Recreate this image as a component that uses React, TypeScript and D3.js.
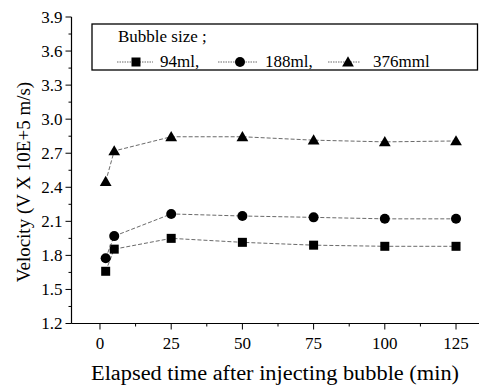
import React from "react";
import * as d3 from "d3";

const times = [2, 5, 25, 50, 75, 100, 125];
const v94 = [1.66, 1.855, 1.95, 1.915, 1.89, 1.88, 1.88];
const v188 = [1.775, 1.97, 2.165, 2.147, 2.135, 2.122, 2.122];
const v376 = [2.45, 2.72, 2.845, 2.845, 2.815, 2.8, 2.808];
const seriesNames = ["94ml,", "188ml,", "376mml"];
const xTicks = [0, 25, 50, 75, 100, 125];
const yTicks = [1.2, 1.5, 1.8, 2.1, 2.4, 2.7, 3.0, 3.3, 3.6, 3.9];

const W = 479;
const H = 390;
const font = "Liberation Serif";

const x = d3.scaleLinear().domain([-10, 135]).range([71.5, 484.5]);
const y = d3.scaleLinear().domain([1.2, 3.9]).range([323.5, 17]);

type Shape = "square" | "circle" | "triangle";

function Marker({ cx, cy, shape }: { cx: number; cy: number; shape: Shape }) {
  if (shape === "square") return <rect x={cx - 4.5} y={cy - 4.5} width={9} height={9} fill="#000" />;
  if (shape === "circle") return <circle cx={cx} cy={cy} r={5} fill="#000" />;
  const sym = d3.symbol().type(d3.symbolTriangle).size(60)();
  return <path d={sym || ""} transform={`translate(${cx},${cy + 1})`} fill="#000" />;
}

const series: { values: number[]; shape: Shape }[] = [
  { values: v94, shape: "square" },
  { values: v188, shape: "circle" },
  { values: v376, shape: "triangle" },
];

export default function App() {
  const line = d3
    .line<number>()
    .x((_, i) => x(times[i]))
    .y((d) => y(d));

  const yMinor = d3.range(1.35, 3.9, 0.3);
  const xMinor = d3.range(12.5, 135, 25);
  const x0 = x.range()[0];
  const yBase = y.range()[0];

  // legend entries: line start, marker, line end, text
  const legendItems = [
    { l0: 117, m: 136, l1: 153, t: 160 },
    { l0: 218, m: 240, l1: 258, t: 265 },
    { l0: 328, m: 348, l1: 360, t: 373 },
  ];

  return (
    <svg
      width={W}
      height={H}
      style={{ position: "absolute", left: 0, top: 0, background: "#fff", fontFamily: font }}
    >
      {/* axes */}
      <line x1={x0} x2={x0} y1={y(3.9)} y2={yBase} stroke="#000" strokeWidth={1.2} />
      <line x1={x0} x2={W} y1={yBase} y2={yBase} stroke="#000" strokeWidth={1.2} />
      {yTicks.map((t) => (
        <g key={t}>
          <line x1={x0 - 6} x2={x0} y1={y(t)} y2={y(t)} stroke="#000" />
          <text x={x0 - 9} y={y(t) + 5.5} textAnchor="end" fontSize={17}>
            {t.toFixed(1)}
          </text>
        </g>
      ))}
      {yMinor.map((t) => (
        <line key={t} x1={x0 - 3} x2={x0} y1={y(t)} y2={y(t)} stroke="#000" />
      ))}
      {xTicks.map((t) => (
        <g key={t}>
          <line x1={x(t)} x2={x(t)} y1={yBase} y2={yBase + 6} stroke="#000" />
          <text x={x(t)} y={yBase + 25} textAnchor="middle" fontSize={17}>
            {t}
          </text>
        </g>
      ))}
      {xMinor.map((t) => (
        <line key={t} x1={x(t)} x2={x(t)} y1={yBase} y2={yBase + 3} stroke="#000" />
      ))}

      <text x={91} y={380} fontSize={20} textLength={368} lengthAdjust="spacingAndGlyphs">
        Elapsed time after injecting bubble (min)
      </text>
      <text transform="translate(30,182) rotate(-90)" textAnchor="middle" fontSize={19}>
        Velocity (V X 10E+5 m/s)
      </text>

      {/* series */}
      {series.map((s, si) => (
        <g key={si}>
          <path d={line(s.values) || ""} fill="none" stroke="#444" strokeWidth={0.8} strokeDasharray="4,2" />
          {s.values.map((v, i) => (
            <Marker key={i} cx={x(times[i])} cy={y(v)} shape={s.shape} />
          ))}
        </g>
      ))}

      {/* legend */}
      <rect x={92} y={24} width={385.5} height={46} fill="#fff" stroke="#000" strokeWidth={1.3} />
      <text x={118} y={42} fontSize={17}>
        Bubble size ;
      </text>
      {legendItems.map((it, i) => (
        <g key={i}>
          <line x1={it.l0} x2={it.l1} y1={62} y2={62} stroke="#444" strokeWidth={0.8} strokeDasharray="1.5,1" />
          <Marker cx={it.m} cy={62} shape={series[i].shape} />
          <text x={it.t} y={67} fontSize={17}>
            {seriesNames[i]}
          </text>
        </g>
      ))}
    </svg>
  );
}
